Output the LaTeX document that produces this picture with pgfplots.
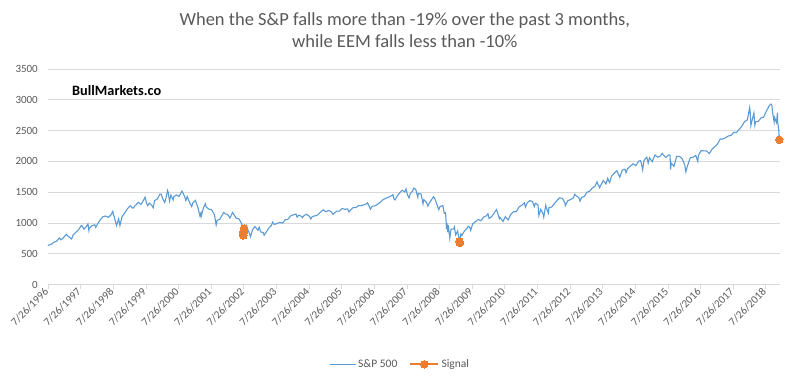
\documentclass[border=0pt]{standalone}
\usepackage{pgfplots}
\pgfplotsset{compat=1.18}
\usepackage{fontspec}
\setmainfont{Carlito}
\definecolor{spblue}{HTML}{5B9BD5}
\definecolor{sigorange}{HTML}{ED7D31}
\definecolor{gridgray}{HTML}{D9D9D9}
\definecolor{txtgray}{HTML}{595959}
\pgfplotsset{
  splegend/.style={legend image code/.code={\draw[##1] (0bp,0bp) -- (26bp,0bp);}},
  siglegend/.style={legend image code/.code={\draw[mark repeat=2,mark phase=2,##1] plot coordinates {(0bp,0bp)(14bp,0bp)(28bp,0bp)};}},
}
\begin{document}
\begin{tikzpicture}
\begin{axis}[
  at={(0,0)}, anchor=south west,
  width=732bp, height=215.5bp, scale only axis,
  xmin=1996.566, xmax=2019.0,
  ymin=0, ymax=3500,
  ytick={0,500,...,3500},
  xtick={1996.566,1997.566,...,2018.6},
  xticklabels={7/26/1996,7/26/1997,7/26/1998,7/26/1999,7/26/2000,7/26/2001,7/26/2002,7/26/2003,7/26/2004,7/26/2005,7/26/2006,7/26/2007,7/26/2008,7/26/2009,7/26/2010,7/26/2011,7/26/2012,7/26/2013,7/26/2014,7/26/2015,7/26/2016,7/26/2017,7/26/2018},
  /pgf/number format/assume math mode=true,
  /pgf/number format/1000 sep={},
  ticklabel style={font=\fontsize{11bp}{12bp}\selectfont, text=txtgray},
  xticklabel style={rotate=45, anchor=east, inner sep=2bp},
  yticklabel style={inner sep=6bp},
  axis x line*=bottom, axis y line*=left,
  x axis line style={draw=gridgray, line width=0.75bp, -},
  y axis line style={draw=none},
  ytick style={draw=none},
  xtick style={draw=gridgray, line width=0.75bp},
  tick align=outside, major tick length=4bp,
  ymajorgrids, grid style={gridgray, line width=0.75bp},
  unbounded coords=jump,
  legend columns=2,
  legend style={at={(0.481,-0.37)}, anchor=center, draw=none, fill=none,
    font=\fontsize{11.5bp}{13bp}\selectfont, text=txtgray,
    /tikz/every even column/.append style={column sep=10bp}},
  legend cell align=left,
  clip=false,
]
\addplot[spblue, line width=1.1bp, mark=none, splegend] table {
1996.566 630
1996.58 639.95
1996.667 651.99
1996.75 687.33
1996.833 705.27
1996.917 757.02
1996.96 726
1997.0 740.74
1997.083 786.16
1997.13 816
1997.167 790.82
1997.25 757.12
1997.29 737.65
1997.333 801.34
1997.417 848.28
1997.5 885.14
1997.58 954.29
1997.60 960
1997.667 899.47
1997.75 947.28
1997.79 983
1997.82 876.99
1997.833 914.62
1997.917 955.40
1998.0 970.43
1998.03 927.69
1998.083 980.28
1998.167 1049.34
1998.25 1101.75
1998.333 1111.75
1998.417 1090.82
1998.5 1133.84
1998.55 1186.75
1998.583 1120.67
1998.667 957.28
1998.73 1066
1998.75 1017.01
1998.77 959.44
1998.833 1098.67
1998.917 1163.63
1999.0 1229.23
1999.083 1279.64
1999.167 1238.33
1999.25 1286.37
1999.333 1335.18
1999.417 1301.84
1999.5 1372.71
1999.54 1418.78
1999.583 1328.72
1999.62 1281
1999.667 1320.41
1999.75 1282.71
1999.79 1247
1999.833 1362.93
1999.917 1388.91
2000.0 1469.25
2000.04 1465
2000.083 1394.46
2000.14 1333
2000.167 1366.42
2000.23 1527.46
2000.25 1498.58
2000.29 1356
2000.333 1452.43
2000.40 1373
2000.417 1420.60
2000.5 1454.60
2000.583 1430.83
2000.67 1517.68
2000.75 1436.51
2000.79 1364
2000.833 1429.40
2000.917 1314.95
2000.97 1264
2001.0 1320.28
2001.083 1366.01
2001.167 1239.94
2001.22 1117
2001.25 1160.33
2001.26 1103
2001.333 1249.46
2001.39 1312
2001.417 1255.82
2001.5 1224.38
2001.583 1211.23
2001.667 1133.58
2001.72 965.80
2001.75 1040.94
2001.833 1059.78
2001.917 1139.45
2001.95 1170
2002.0 1148.08
2002.083 1130.20
2002.14 1080
2002.167 1106.73
2002.22 1170
2002.25 1147.39
2002.333 1076.92
2002.417 1067.14
2002.5 989.82
2002.545 847.75
2002.553 797.70
2002.56 843.43
2002.568 852.84
2002.58 911.62
2002.65 962
2002.667 916.07
2002.75 815.28
2002.77 776.76
2002.833 885.76
2002.9 938
2002.917 936.31
2003.0 879.82
2003.04 931
2003.083 855.70
2003.167 841.15
2003.19 800.73
2003.25 848.18
2003.333 916.92
2003.417 963.59
2003.45 1011
2003.5 974.50
2003.583 990.31
2003.667 1008.01
2003.75 995.97
2003.833 1050.71
2003.917 1058.20
2004.0 1111.92
2004.083 1131.13
2004.167 1144.94
2004.2 1094
2004.25 1126.21
2004.333 1107.30
2004.36 1084
2004.417 1120.68
2004.5 1140.84
2004.583 1101.72
2004.62 1063
2004.667 1104.24
2004.75 1114.58
2004.833 1130.20
2004.917 1173.82
2005.0 1211.92
2005.083 1181.27
2005.167 1203.60
2005.25 1180.59
2005.3 1137.50
2005.333 1156.85
2005.417 1191.50
2005.5 1191.33
2005.583 1234.18
2005.667 1220.33
2005.75 1228.81
2005.79 1177
2005.833 1207.01
2005.917 1249.48
2006.0 1248.29
2006.083 1280.08
2006.167 1280.66
2006.25 1294.83
2006.333 1310.61
2006.36 1325.76
2006.45 1223.69
2006.5 1270.20
2006.583 1276.66
2006.667 1303.82
2006.75 1335.85
2006.833 1377.94
2006.917 1400.63
2007.0 1418.30
2007.083 1438.24
2007.14 1459.68
2007.16 1399
2007.2 1374
2007.25 1420.86
2007.333 1482.37
2007.417 1530.62
2007.5 1503.35
2007.54 1553
2007.583 1455.27
2007.63 1406.70
2007.667 1473.99
2007.75 1526.75
2007.77 1565.15
2007.833 1549.38
2007.9 1416.77
2007.917 1481.14
2008.0 1468.36
2008.06 1310.50
2008.083 1378.55
2008.167 1330.63
2008.21 1273.37
2008.25 1322.70
2008.333 1385.59
2008.38 1426
2008.417 1400.38
2008.5 1280.00
2008.54 1214.91
2008.583 1267.38
2008.667 1282.83
2008.71 1156.39
2008.75 1166.36
2008.78 899.22
2008.79 1003
2008.82 848.92
2008.833 968.75
2008.88 752.44
2008.917 896.24
2009.0 903.25
2009.02 934.70
2009.06 805
2009.083 825.88
2009.12 869
2009.167 735.09
2009.175 700.82
2009.18 682.55
2009.186 676.53
2009.19 719.60
2009.22 822
2009.25 797.87
2009.333 872.81
2009.417 919.14
2009.45 946
2009.5 919.32
2009.52 879
2009.583 987.48
2009.667 1020.62
2009.75 1057.08
2009.833 1036.19
2009.917 1095.63
2010.0 1115.10
2010.05 1150
2010.083 1073.87
2010.167 1104.49
2010.25 1169.43
2010.31 1217
2010.333 1186.69
2010.4 1071
2010.417 1089.41
2010.5 1030.71
2010.51 1022.58
2010.583 1101.60
2010.667 1049.33
2010.75 1141.20
2010.833 1183.26
2010.917 1180.55
2011.0 1257.64
2011.083 1286.12
2011.167 1327.22
2011.2 1256.88
2011.25 1325.83
2011.333 1363.61
2011.417 1345.20
2011.47 1265
2011.5 1320.64
2011.583 1292.28
2011.61 1119.46
2011.667 1218.89
2011.75 1131.42
2011.76 1099.23
2011.82 1285
2011.833 1253.30
2011.9 1158.67
2011.917 1246.96
2012.0 1257.60
2012.083 1312.41
2012.167 1365.68
2012.25 1408.47
2012.333 1397.91
2012.417 1310.33
2012.42 1278
2012.5 1362.16
2012.583 1379.32
2012.667 1406.58
2012.71 1465.77
2012.75 1440.67
2012.833 1412.16
2012.873 1353.33
2012.917 1416.18
2013.0 1426.19
2013.083 1498.11
2013.167 1514.68
2013.25 1569.19
2013.333 1597.57
2013.39 1669
2013.417 1630.74
2013.47 1573
2013.5 1606.28
2013.583 1685.73
2013.667 1632.97
2013.72 1725
2013.75 1681.55
2013.78 1656
2013.833 1756.54
2013.917 1805.81
2014.0 1848.36
2014.09 1741.89
2014.167 1859.45
2014.25 1872.34
2014.28 1815
2014.333 1883.95
2014.417 1923.57
2014.5 1960.23
2014.583 1930.67
2014.667 2003.37
2014.72 2011
2014.75 1972.29
2014.79 1862.49
2014.833 2018.05
2014.917 2067.56
2014.96 1972.74
2015.0 2058.90
2015.083 1994.99
2015.167 2104.50
2015.25 2067.89
2015.333 2085.51
2015.39 2130.82
2015.417 2107.39
2015.5 2063.11
2015.583 2103.84
2015.63 2102
2015.646 1867.61
2015.667 1972.18
2015.75 1920.03
2015.833 2079.36
2015.917 2080.41
2016.0 2043.94
2016.083 1940.24
2016.115 1829.08
2016.167 1932.23
2016.25 2059.74
2016.333 2065.30
2016.417 2096.95
2016.48 2000.54
2016.5 2098.86
2016.583 2173.60
2016.667 2170.95
2016.75 2168.27
2016.833 2126.15
2016.917 2198.81
2017.0 2238.83
2017.083 2278.87
2017.167 2363.64
2017.25 2362.72
2017.333 2384.20
2017.417 2411.80
2017.5 2423.41
2017.583 2470.30
2017.667 2471.65
2017.75 2519.36
2017.833 2575.26
2017.917 2647.58
2018.0 2673.61
2018.07 2872.87
2018.083 2823.81
2018.107 2581.00
2018.167 2713.83
2018.2 2786
2018.23 2588
2018.25 2640.87
2018.333 2648.05
2018.417 2705.27
2018.5 2718.37
2018.583 2816.29
2018.667 2901.52
2018.72 2930.75
2018.75 2913.98
2018.776 2785.68
2018.82 2641.25
2018.833 2711.74
2018.89 2632
2018.917 2760.17
2018.92 2790.37
2018.93 2633
2018.955 2546
2018.962 2507
2018.965 2467
2018.97 2417
2018.978 2351.10
};
\addlegendentry{S\&P 500}
\addplot[sigorange, line width=2.25bp, mark=*, mark size=3.8bp,
  mark options={fill=sigorange, draw=sigorange, line width=0bp}, siglegend] table {
2002.545 847.75
2002.547 819.85
2002.553 797.70
2002.556 843.43
2002.558 838.68
2002.562 852.84
2002.57 898.96
2002.573 902.78
2002.578 911.62
nan nan
2009.175 700.82
2009.178 696.33
2009.183 682.55
2009.186 683.38
2009.19 676.53
nan nan
2018.978 2351.10
};
\addlegendentry{Signal}
\node[anchor=base west, font=\fontsize{14.3bp}{16bp}\selectfont\bfseries, text=black, inner sep=0pt]
  at (rel axis cs:0.0328,0.879) {BullMarkets.co};
\node[anchor=base, font=\fontsize{18.5bp}{21bp}\selectfont, text=txtgray, inner sep=0pt]
  at (rel axis cs:0.4875,1.200) {When the S\&P falls more than -19\% over the past 3 months,};
\node[anchor=base, font=\fontsize{18.5bp}{21bp}\selectfont, text=txtgray, inner sep=0pt]
  at (rel axis cs:0.4875,1.098) {while EEM falls less than -10\%};
\end{axis}
\pgfresetboundingbox
\path (-48bp,-92.5bp) rectangle (752bp,284.5bp);
\end{tikzpicture}
\end{document}
